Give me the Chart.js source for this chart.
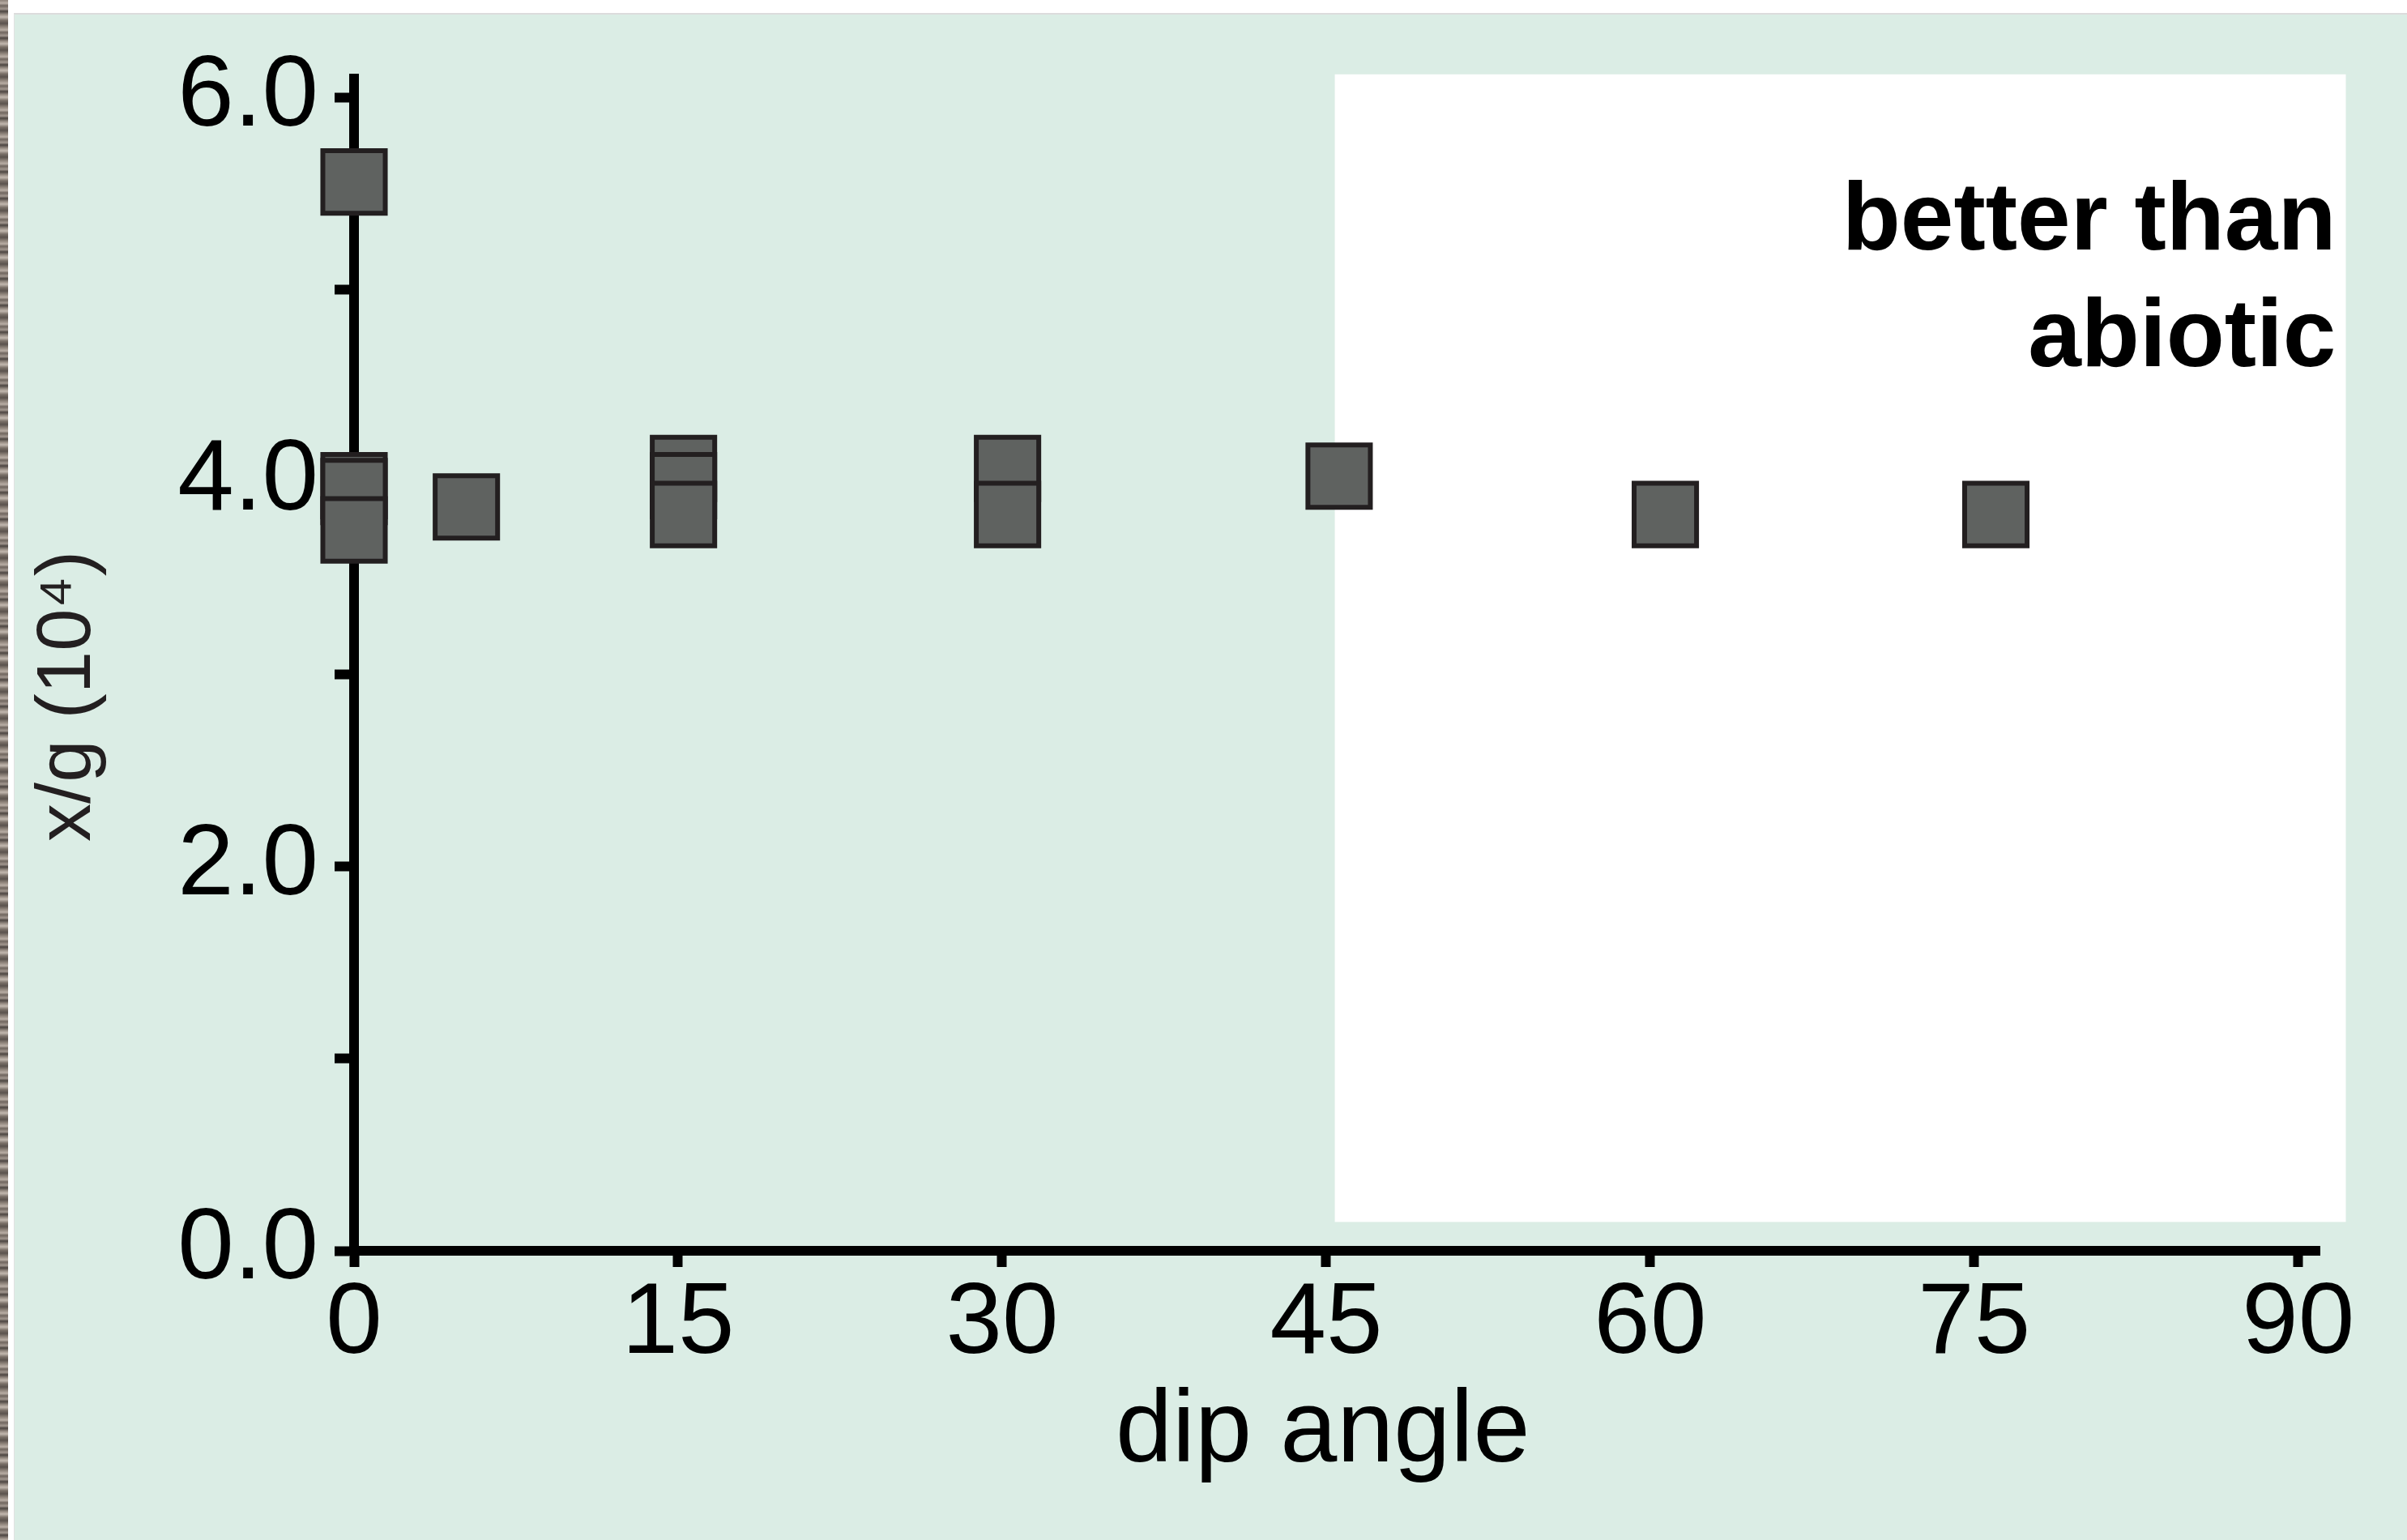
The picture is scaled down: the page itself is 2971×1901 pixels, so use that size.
<!DOCTYPE html>
<html>
<head>
<meta charset="utf-8">
<script src="https://cdn.jsdelivr.net/npm/chart.js@4/dist/chart.umd.min.js"></script>
<style>
  html, body { margin: 0; padding: 0; width: 2971px; height: 1901px; overflow: hidden; background: #ffffff; }
  /* textured strip on the far left of the original scan */
  .strip {
    position: absolute; left: 0; top: 0; width: 10px; height: 1901px;
    background: repeating-linear-gradient(180deg,
      #8d8279 0px, #b9aea5 4px, #6f655e 7px, #a39890 11px, #4c4541 14px,
      #9a8f86 18px, #c2b8af 21px, #7a7068 25px, #5a524d 29px, #8d8279 33px);
  }
  .panel {
    position: absolute; left: 17px; top: 16px; right: 0; bottom: 0;
    background: #dbede5;
    border-top: 2px solid #dcdcdc;
    border-left: 1px solid #e2e2e2;
  }
  canvas { position: absolute; left: 0; top: 0; }
</style>
</head>
<body>
<div class="strip"></div>
<div class="panel"></div>
<canvas id="chart" width="2971" height="1901"></canvas>
<script>
// values
const dipAngles = [0, 0, 0, 0, 5.2, 15.25, 15.25, 15.25, 30.25, 30.25, 45.6, 60.7, 76];
const xgValues  = [5.56, 3.98, 3.95, 3.75, 3.87, 4.07, 3.98, 3.83, 4.07, 3.83, 4.03, 3.83, 3.83];

const xTickValues = [0, 15, 30, 45, 60, 75, 90];
const yTickValues = [0, 1, 2, 3, 4, 5, 6];
const yTickLabels = ['0.0', '', '2.0', '', '4.0', '', '6.0'];

// shaded "better than abiotic" region (data units)
const regionX = [45.4, 92.2];
const regionY = [0.15, 6.12];
const regionLabel = ['better than', 'abiotic'];

const FONT = '"Liberation Sans", Arial, Helvetica, sans-serif';

// draws the white region and its label underneath the points
const regionPlugin = {
    id: 'region',
    beforeDatasetsDraw(chart) {
        const ctx = chart.ctx;
        const xs = chart.scales.x, ys = chart.scales.y;
        const x1 = xs.getPixelForValue(regionX[0]);
        const x2 = xs.getPixelForValue(regionX[1]);
        const y1 = ys.getPixelForValue(regionY[1]);
        const y2 = ys.getPixelForValue(regionY[0]);
        ctx.save();
        ctx.fillStyle = '#ffffff';
        ctx.fillRect(x1, y1, x2 - x1, y2 - y1);

        ctx.fillStyle = '#000000';
        ctx.font = 'bold 118px ' + FONT;
        ctx.textAlign = 'right';
        ctx.textBaseline = 'alphabetic';
        const tx = xs.getPixelForValue(91.75);
        ctx.fillText(regionLabel[0], tx, ys.getPixelForValue(5.21));
        ctx.fillText(regionLabel[1], tx, ys.getPixelForValue(4.6));
        ctx.restore();
    }
};

new Chart(document.getElementById('chart'), {
    type: 'scatter',
    data: {
        datasets: [{
            data: dipAngles.map((d, i) => ({ x: d, y: xgValues[i] })),
            pointStyle: 'rect',
            pointRadius: 54.5,
            pointBorderWidth: 6,
            backgroundColor: '#5f6260',
            borderColor: '#231f20',
            clip: false
        }]
    },
    options: {
        responsive: false,
        animation: false,
        devicePixelRatio: 1,
        layout: { padding: { top: 96.5, right: 107.5, left: 0, bottom: 0 } },
        plugins: {
            legend: { display: false },
            tooltip: { enabled: false }
        },
        scales: {
            x: {
                type: 'linear',
                min: 0,
                max: 91,
                z: 1,
                afterFit(scale) { scale.height = 357; },
                afterBuildTicks(scale) { scale.ticks = xTickValues.map(v => ({ value: v })); },
                border: { display: true, color: '#000000', width: 12 },
                grid: {
                    drawOnChartArea: false,
                    drawTicks: true,
                    tickLength: 20,
                    tickWidth: 12,
                    tickColor: '#000000',
                    color: '#000000'
                },
                ticks: {
                    color: '#000000',
                    padding: 9,
                    maxRotation: 0,
                    font: { family: FONT, size: 125, lineHeight: 1 },
                    callback: v => String(v)
                },
                title: {
                    display: true,
                    text: 'dip angle ',
                    color: '#000000',
                    font: { family: FONT, size: 126 },
                    padding: { top: 0, bottom: 56 }
                }
            },
            y: {
                type: 'linear',
                min: 0,
                max: 6.1,
                z: 1,
                afterFit(scale) { scale.width = 437; },
                afterBuildTicks(scale) { scale.ticks = yTickValues.map(v => ({ value: v })); },
                border: { display: true, color: '#000000', width: 12 },
                grid: {
                    drawOnChartArea: false,
                    drawTicks: true,
                    tickLength: 24,
                    tickWidth: 12,
                    tickColor: '#000000',
                    color: '#000000'
                },
                ticks: {
                    color: '#000000',
                    padding: 20,
                    font: { family: FONT, size: 125 },
                    callback: (v, i) => yTickLabels[i]
                },
                title: {
                    display: true,
                    text: 'x/g (10\u2074)   ',
                    color: '#231f20',
                    font: { family: FONT, size: 94 },
                    padding: { top: 29, bottom: 0 }
                }
            }
        }
    },
    plugins: [regionPlugin]
});
</script>
</body>
</html>
